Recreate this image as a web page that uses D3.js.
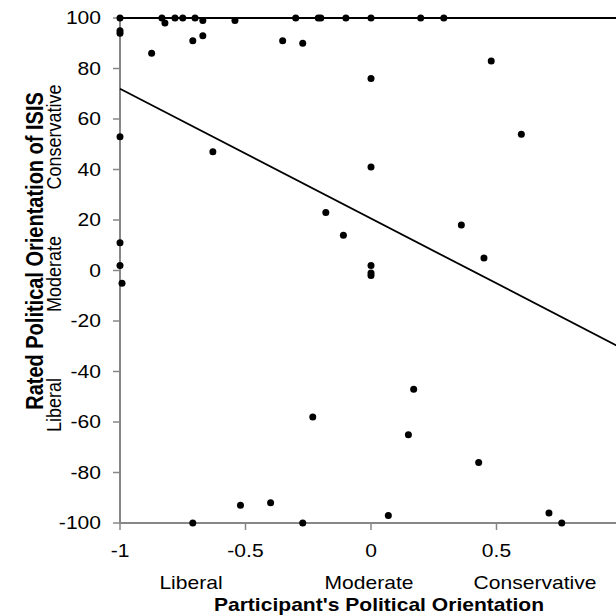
<!DOCTYPE html>
<html>
<head>
<meta charset="utf-8">
<script src="https://d3js.org/d3.v7.min.js"></script>
<style>
  body { margin: 0; background: #fff; }
  svg { display: block; font-family: "Liberation Sans", Arial, sans-serif; }
</style>
</head>
<body>
<script>
    // participant orientation (x) and rated orientation of ISIS (y)
    const partX = [
        -1, -1, -1, -0.874, -0.833, -0.821, -0.781, -0.75, -0.701, -0.71, -0.67, -0.67,
        -0.542, -0.352, -0.30, -0.272, -0.21, -0.20, -0.10, 0, 0.198, 0.29, 0, 0.479,
        -1, -0.63, -0.18, -0.11, -1, -1, -0.992,
        0.599, 0, 0.36, 0.45, 0, 0, 0,
        -0.71, -0.52, -0.40, -0.272, -0.232,
        0.17, 0.149, 0.429, 0.069, 0.709, 0.76
    ];
    const ratedY = [
        100, 95, 94, 86, 100, 98, 100, 100, 100, 91, 99, 93,
        99, 91, 100, 90, 100, 100, 100, 100, 100, 100, 76, 83,
        53, 47, 23, 14, 11, 2, -5,
        54, 41, 18, 5, 2, -1, -2,
        -100, -93, -92, -100, -58,
        -47, -65, -76, -97, -96, -100
    ];
    const fitIntercept = 20.6, fitSlope = -51.4;
    const xTicks = [-1, -0.5, 0, 0.5];   // 1 falls just past the right edge
    const yTicks = [-100, -80, -60, -40, -20, 0, 20, 40, 60, 80, 100];
    const anchorLabels = ['Liberal', 'Moderate', 'Conservative'];

    const width = 616, height = 615;
    const FS = 18, SX = 1.17;   // text is a bit wider than tall in the original
    const axisGrey = '#878787';

    const svg = d3.select('body').append('svg')
        .attr('width', width)
        .attr('height', height);

    const x = d3.scaleLinear().domain([-1, 1]).range([120, 622]);
    const y = d3.scaleLinear().domain([-100, 100]).range([523, 18]);

    // stretched text helper
    function label(px, py, txt, opts = {}) {
        const rot = opts.rotate ? ' rotate(-90)' : '';
        return svg.append('text')
            .attr('transform', `translate(${px},${py}) scale(${SX},1)${rot}`)
            .attr('text-anchor', opts.anchor || 'middle')
            .attr('font-size', opts.size || FS)
            .attr('font-weight', opts.bold ? 'bold' : null)
            .text(txt);
    }

    // axis lines
    svg.append('line')
        .attr('x1', x(-1)).attr('x2', x(-1))
        .attr('y1', y(100)).attr('y2', y(-100))
        .attr('stroke', axisGrey).attr('stroke-width', 2);
    svg.append('line')
        .attr('x1', x(-1)).attr('x2', width)
        .attr('y1', y(-100)).attr('y2', y(-100))
        .attr('stroke', axisGrey).attr('stroke-width', 2);

    // y ticks + labels
    svg.append('g').selectAll('line')
        .data(yTicks)
        .join('line')
        .attr('x1', x(-1) - 7).attr('x2', x(-1))
        .attr('y1', d => y(d)).attr('y2', d => y(d))
        .attr('stroke', axisGrey).attr('stroke-width', 1.5);
    yTicks.forEach(d => label(101, y(d) + 6, String(d), { anchor: 'end' }));

    // x ticks + labels
    svg.append('g').selectAll('line')
        .data(xTicks)
        .join('line')
        .attr('x1', d => x(d)).attr('x2', d => x(d))
        .attr('y1', y(-100)).attr('y2', y(-100) + 7)
        .attr('stroke', axisGrey).attr('stroke-width', 1.5);
    xTicks.forEach(d => label(x(d), 557, String(d)));

    // top line at 100
    svg.append('line')
        .attr('x1', x(-1)).attr('x2', width)
        .attr('y1', y(100)).attr('y2', y(100))
        .attr('stroke', '#000').attr('stroke-width', 2);

    // regression line
    svg.append('line')
        .attr('x1', x(-1)).attr('y1', y(fitIntercept + fitSlope * -1))
        .attr('x2', x(1)).attr('y2', y(fitIntercept + fitSlope * 1))
        .attr('stroke', '#000').attr('stroke-width', 1.8);

    // points
    svg.append('g').selectAll('circle')
        .data(partX.map((d, i) => [d, ratedY[i]]))
        .join('circle')
        .attr('cx', d => x(d[0]))
        .attr('cy', d => y(d[1]))
        .attr('r', 3.5)
        .attr('fill', '#000');

    // x axis labels
    const anchorX = [191, 369, 535];
    anchorLabels.forEach((t, i) => label(anchorX[i], 589, t));
    label(379, 611, "Participant's Political Orientation", { bold: true });

    // y axis labels
    label(43, 251, 'Rated Political Orientation of ISIS', { rotate: true, bold: true, size: 20 });
    const anchorY = [405, 274, 137];
    anchorLabels.forEach((t, i) => label(61, anchorY[i], t, { rotate: true }));
</script>
</body>
</html>
